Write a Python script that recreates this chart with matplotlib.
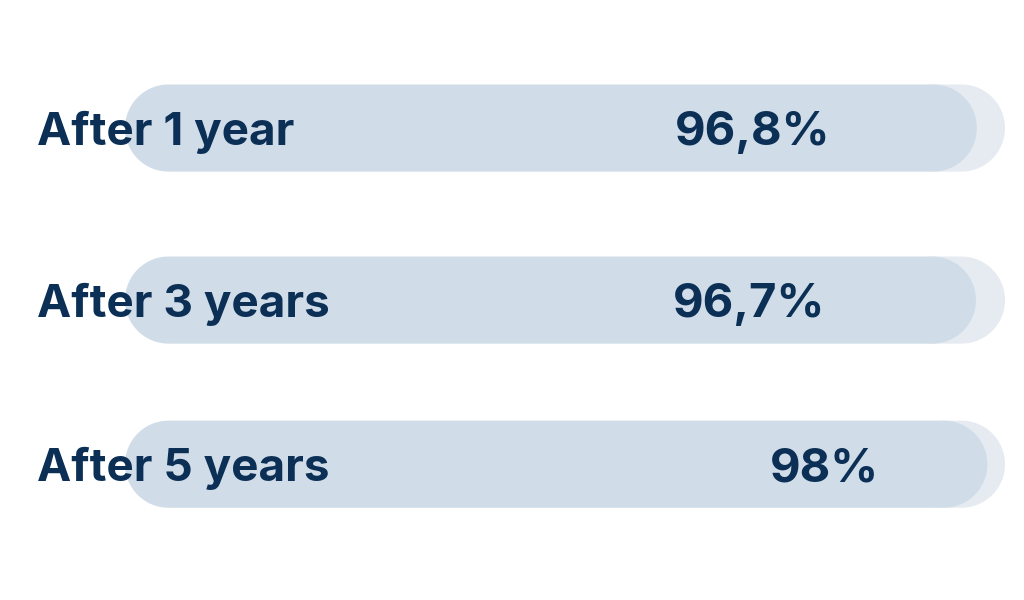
import numpy as np
import matplotlib.pyplot as plt
from matplotlib.patches import Polygon

# data
labels = ["After 1 year", "After 3 years", "After 5 years"]
values = [96.8, 96.7, 98.0]
value_text = ["96,8%", "96,7%", "98%"]

# layout (axes units: 1 unit = 1 percent of the track)
row_y = [14.55, 34.1, 52.75]
bar_h = 9.9
pct_x = [62.5, 62.3, 73.3]

track_color = "#e6ebf1"
bar_color = "#d0dde9"
text_color = "#0b2f55"

plt.rcParams["font.family"] = ["Inter", "DejaVu Sans"]


def pill(ax, x0, x1, y, h, color, z):
    # one polygon: rectangle with semicircle ends
    r = h / 2
    t = np.linspace(-np.pi / 2, np.pi / 2, 60)
    right = np.column_stack([x1 - r + r * np.cos(t), y + r * np.sin(t)])
    left = np.column_stack([x0 + r - r * np.cos(t), y - r * np.sin(t)])
    ax.add_patch(Polygon(np.vstack([right, left]), closed=True,
                         fc=color, ec="none", zorder=z))


fig = plt.figure(figsize=(10.24, 6), dpi=100)
ax = fig.add_axes([0, 0, 1, 1])
ax.set_xlim(-125 / 8.8, 899 / 8.8)
ax.set_ylim(600 / 8.8, 0)
ax.set_aspect("equal")
ax.axis("off")

for y, v, lab, txt, px in zip(row_y, values, labels, value_text, pct_x):
    # track only needs to show past the bar end
    pill(ax, v - bar_h, 100, y, bar_h, track_color, 1)
    pill(ax, 0, v, y, bar_h, bar_color, 2)
    ax.text(-10, y, lab, ha="left", va="center_baseline", fontsize=33,
            fontweight="bold", color=text_color, zorder=3)
    ax.text(px, y, txt, ha="left", va="center_baseline", fontsize=34,
            fontweight="bold", color=text_color, zorder=3)

fig.savefig("out.png", dpi=100, facecolor="white")
